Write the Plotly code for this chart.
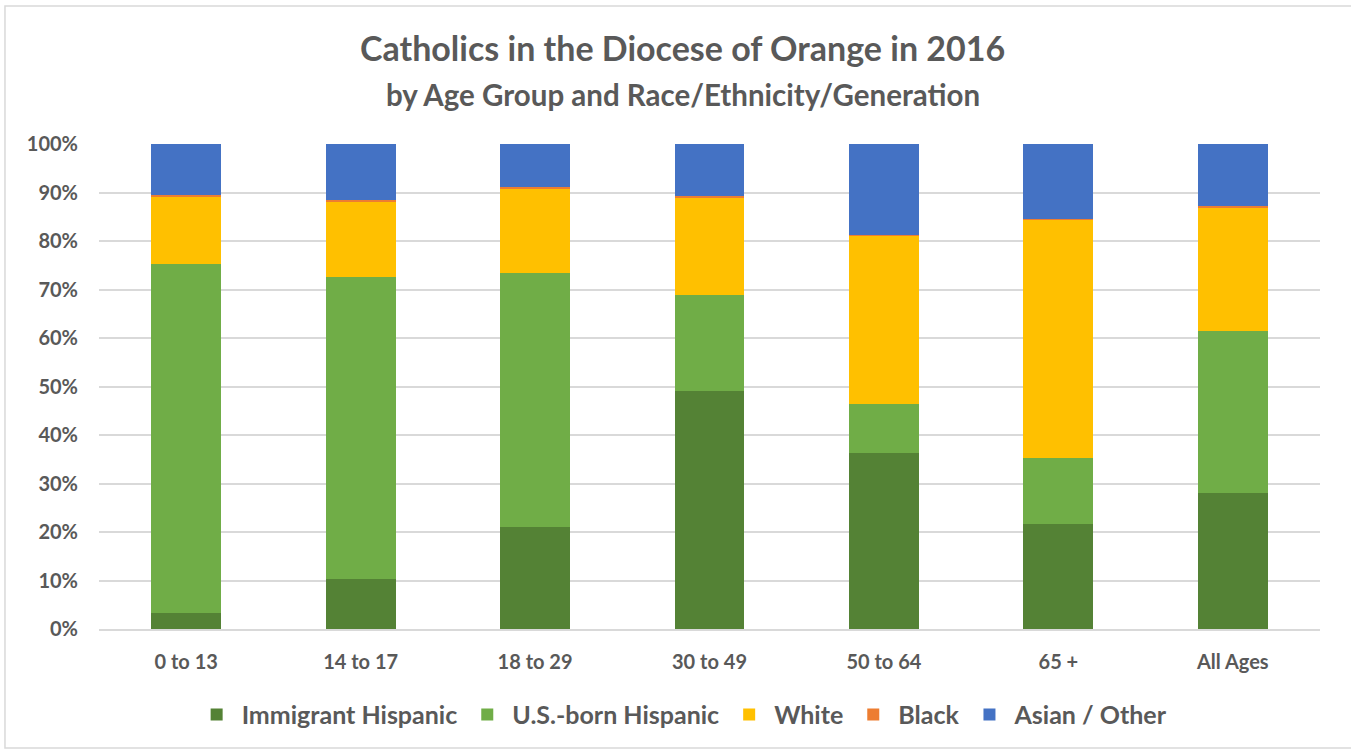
import plotly.graph_objects as go

categories = ["0 to 13", "14 to 17", "18 to 29", "30 to 49", "50 to 64", "65 +", "All Ages"]
immigrant_hispanic = [3.3, 10.3, 21.0, 49.1, 36.3, 21.6, 28.0]
us_born_hispanic = [72.0, 62.3, 52.4, 19.8, 10.1, 13.7, 33.4]
white = [13.8, 15.6, 17.3, 20.1, 34.8, 49.2, 25.5]
black = [0.4, 0.3, 0.5, 0.2, 0.1, 0.1, 0.4]
asian_other = [10.5, 11.5, 8.8, 10.8, 18.7, 15.4, 12.7]

series = [
    ("Immigrant Hispanic", immigrant_hispanic, "#548235"),
    ("U.S.-born Hispanic", us_born_hispanic, "#70AD47"),
    ("White", white, "#FFC000"),
    ("Black", black, "#ED7D31"),
    ("Asian / Other", asian_other, "#4472C4"),
]

FONT = "Lato"
TXT = "#595959"

fig = go.Figure()
for name, vals, col in series:
    fig.add_trace(go.Bar(
        x=categories, y=[v / 100 for v in vals], name=name,
        marker=dict(color=col, line=dict(width=0)),
    ))

fig.update_layout(
    barmode="stack",
    bargap=0.6,
    width=1351, height=751,
    margin=dict(l=99, r=31, t=144, b=122),
    plot_bgcolor="white", paper_bgcolor="white",
    font=dict(family=FONT, color=TXT),
    showlegend=True,
    legend=dict(orientation="h", x=0.478, xanchor="center", y=-0.177, yanchor="middle",
                font=dict(size=25, family=FONT, color=TXT, weight="bold"),
                itemsizing="constant", traceorder="normal", itemwidth=40),
    xaxis=dict(showgrid=False, showline=True, linecolor="#D9D9D9", linewidth=1.5,
               tickfont=dict(size=20, family=FONT, color=TXT, weight="bold"), ticks="",
               ticklabelstandoff=14),
    yaxis=dict(range=[0, 1], tickformat=".0%", dtick=0.1, showgrid=True,
               gridcolor="#D9D9D9", gridwidth=1.5, zeroline=False,
               tickfont=dict(size=20, family=FONT, color=TXT, weight="bold"),
               ticks="", ticklabelstandoff=20),
    annotations=[
        dict(text="Catholics in the Diocese of Orange in 2016", xref="paper", yref="paper",
             x=0.478, y=1.198, xanchor="center", yanchor="middle", showarrow=False,
             font=dict(size=34, family=FONT, color=TXT, weight="bold")),
        dict(text="by Age Group and Race/Ethnicity/Generation", xref="paper", yref="paper",
             x=0.478, y=1.103, xanchor="center", yanchor="middle", showarrow=False,
             font=dict(size=29.5, family=FONT, color=TXT, weight="bold")),
    ],
    shapes=[dict(type="rect", xref="paper", yref="paper", x0=-0.077, x1=1.0262,
                 y0=-0.2454, y1=1.2845, line=dict(color="#D9D9D9", width=1.5),
                 fillcolor="rgba(0,0,0,0)", layer="below")],
)

fig.write_html("out.html", config={"displayModeBar": False},
               post_script="document.body.style.margin='0';")
